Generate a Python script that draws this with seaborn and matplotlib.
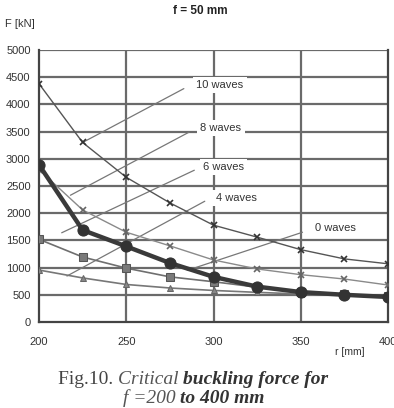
import numpy as np
import pandas as pd
import matplotlib.pyplot as plt
import seaborn as sns

sns.set_style("white")
plt.rcParams['font.family'] = ['Liberation Sans', 'DejaVu Sans']

# data (r in mm, F in kN)
r = [200, 225, 250, 275, 300, 325, 350, 375, 400]
f_cross_upper = [4380, 3300, 2660, 2190, 1780, 1560, 1330, 1160, 1070]
f_cross_lower = [2800, 2060, 1650, 1400, 1140, 975, 870, 790, 680]
f_thick = [2890, 1690, 1390, 1085, 830, 650, 550, 500, 460]
f_square = [1520, 1195, 990, 830, 740, 640, 560, 510, 470]
f_triangle = [955, 810, 690, 625, 580, 545, 515, 490, 450]

wave_labels = ['10 waves', '8 waves', '6 waves', '4 waves', '0 waves']
label_pos = [(290, 4356), (292.3, 3566), (294, 2850), (301.4, 2280), (358, 1730)]
leaders = [((225, 3300), (283, 4290)),
           ((218, 2330), (286, 3490)),
           ((213, 1640), (289, 2790)),
           ((216, 845), (295, 2220)),
           ((285, 950), (351, 1650))]

df = pd.DataFrame({'r': r, 'cu': f_cross_upper, 'cl': f_cross_lower,
                   'th': f_thick, 'sq': f_square, 'tr': f_triangle})

fig = plt.figure(figsize=(3.94, 4.08), dpi=100)
ax = fig.add_axes([39/394, 86/408, 349/394, 272/408])

# grid
for yv in range(500, 5001, 500):
    ax.axhline(yv, color='#6a6a6a', lw=1.6, zorder=0)
for xv in [250, 300, 350]:
    ax.axvline(xv, color='#6a6a6a', lw=1.6, zorder=0)

# leader lines
for (x0, y0), (x1, y1) in leaders:
    ax.plot([x0, x1], [y0, y1], color='#777777', lw=0.9, zorder=1)

sns.lineplot(data=df, x='r', y='cu', ax=ax, color='#555555', lw=1.0,
             marker='x', markersize=5, mew=1.2, mec='#333333', zorder=3)
sns.lineplot(data=df, x='r', y='cl', ax=ax, color='#8a8a8a', lw=1.0,
             marker='x', markersize=5, mew=1.2, mec='#666666', zorder=3)
sns.lineplot(data=df, x='r', y='sq', ax=ax, color='#6f6f6f', lw=1.2,
             marker='s', markersize=6, mfc='#7a7a7a', mec='#555555', zorder=3)
sns.lineplot(data=df, x='r', y='tr', ax=ax, color='#777777', lw=1.2,
             marker='^', markersize=5, mfc='#888888', mec='#666666', zorder=3)
sns.lineplot(data=df, x='r', y='th', ax=ax, color='#3a3a3a', lw=3.2,
             marker='o', markersize=8, mfc='#333333', mec='#333333', zorder=4)

# wave labels with white boxes over the grid
for txt, (xp, yp) in zip(wave_labels, label_pos):
    ax.text(xp, yp, txt, fontsize=8, color='#333333', ha='left', va='center',
            zorder=5, bbox=dict(facecolor='white', edgecolor='none', pad=2.5))

ax.set_xlim(200, 400)
ax.set_ylim(0, 5000)
ax.set_xticks([200, 250, 300, 350, 400])
ax.set_yticks(range(0, 5001, 500))
ax.tick_params(axis='both', labelsize=8, colors='#333333', length=3,
               width=1, direction='out')
ax.tick_params(axis='x', pad=8)
ax.tick_params(axis='y', pad=3)
ax.set_xlabel('')
ax.set_ylabel('')
for side in ['left', 'bottom', 'right']:
    ax.spines[side].set_color('#444444')
    ax.spines[side].set_linewidth(1.6)
ax.spines['top'].set_visible(False)

fig.text(200/394, 1 - 11/408, 'f = 50 mm', fontsize=8.5, fontweight='bold',
         ha='center', va='center', color='#222222')
fig.text(5/394, 1 - 24/408, 'F [kN]', fontsize=8, ha='left', va='center',
         color='#333333')
fig.text(335/394, 1 - 352/408, 'r [mm]', fontsize=7.5, ha='left', va='center',
         color='#333333')

# caption in serif, mixed styles
serif = ['Liberation Serif', 'DejaVu Serif']
t1 = fig.text(58/394, 1 - 380/408, 'Fig.10. ', fontsize=14, family=serif,
              color='#444444', va='center')
t2 = ax.annotate('Critical ', xy=(1, 0), xycoords=t1, va='bottom',
                 fontsize=14, family=serif, style='italic', color='#555555')
t3 = ax.annotate('buckling force for', xy=(1, 0), xycoords=t2, va='bottom',
                 fontsize=14, family=serif, style='italic',
                 fontweight='bold', color='#333333')
t4 = fig.text(123/394, 1 - 398/408, 'f =200 ', fontsize=14, family=serif,
              style='italic', color='#555555', va='center')
ax.annotate('to 400 mm', xy=(1, 0), xycoords=t4, va='bottom', fontsize=14,
            family=serif, style='italic', fontweight='bold', color='#333333')

plt.savefig('out.png', dpi=100)
